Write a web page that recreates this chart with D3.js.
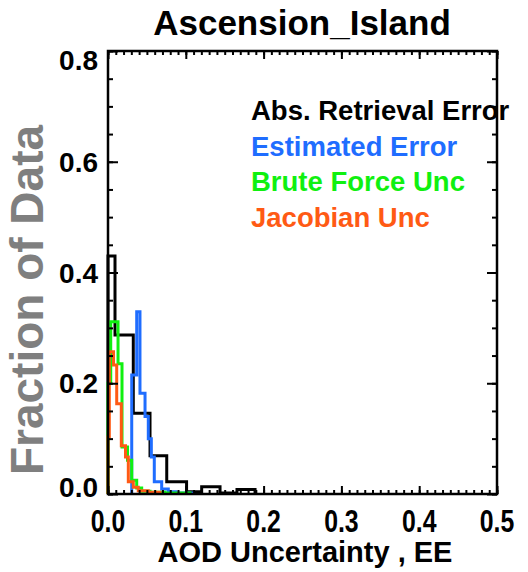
<!DOCTYPE html>
<html>
<head>
<meta charset="utf-8">
<script src="https://cdn.jsdelivr.net/npm/d3@7"></script>
<style>
  body { margin: 0; background: #fff; }
  text { font-family: "Liberation Sans", Arial, sans-serif; font-weight: bold; }
</style>
</head>
<body>
<script>
// histogram bin edges (AOD units) and fraction of data per bin
var absEdges  = [0, 0.009, 0.0325, 0.054, 0.0755, 0.101, 0.1204, 0.144, 0.1658, 0.189];
var absVals   = [0.43, 0.287, 0.146, 0.069, 0.022, 0.004, 0.013, 0.002, 0.008];

var estEdges  = [0.0305, 0.0369, 0.0411, 0.0476, 0.0518, 0.0557, 0.0595, 0.069, 0.0775, 0.0874, 0.109];
var estVals   = [0.215, 0.329, 0.182, 0.14, 0.10, 0.067, 0.022, 0.009, 0.004, 0.002];

var bruteEdges = [0, 0.0035, 0.0129, 0.018, 0.0251, 0.0305, 0.0369, 0.0433, 0.054, 0.0733, 0.1054];
var bruteVals  = [0.2, 0.311, 0.235, 0.085, 0.061, 0.025, 0.011, 0.005, 0.003, 0.002];

var jacEdges  = [0, 0.0017, 0.0071, 0.0112, 0.0171, 0.0225, 0.0261, 0.0325, 0.0389, 0.0518, 0.0668];
var jacVals   = [0.103, 0.257, 0.233, 0.163, 0.087, 0.067, 0.022, 0.012, 0.006, 0.003];

var xTicks = [0, 0.1, 0.2, 0.3, 0.4, 0.5];
var yTicks = [0, 0.2, 0.4, 0.6, 0.8];
var legendNames = ["Abs. Retrieval Error", "Estimated Error", "Brute Force Unc", "Jacobian Unc"];
var colors = ["#000000", "#1f6dff", "#10f010", "#ff5a14"];

var svg = d3.select("body").append("svg")
    .attr("width", 528)
    .attr("height", 572);

var pLeft = 108, pRight = 497, pTop = 51, pBottom = 494;
var x = d3.scaleLinear().domain([0, 0.5]).range([pLeft, pRight]);
var y = d3.scaleLinear().domain([0, 0.8]).range([pBottom, pTop]);

// histograms as step lines
function steps(edges, vals) {
    var pts = [[edges[0], 0]];
    vals.forEach(function (v, i) {
        pts.push([edges[i], v]);
        pts.push([edges[i + 1], v]);
    });
    pts.push([edges[edges.length - 1], 0]);
    return pts;
}
var line = d3.line().x(function (d) { return x(d[0]); }).y(function (d) { return y(d[1]); });

var series = [[absEdges, absVals], [estEdges, estVals], [bruteEdges, bruteVals], [jacEdges, jacVals]];
svg.selectAll("path.hist")
    .data(series)
    .enter().append("path")
    .attr("class", "hist")
    .attr("d", function (d) { return line(steps(d[0], d[1])); })
    .attr("fill", "none")
    .attr("stroke", function (d, i) { return colors[i]; })
    .attr("stroke-width", 3)
    .attr("stroke-linejoin", "miter");

// axes: ticks point inward on all four sides
function tickStyle(g) {
    g.select(".domain").remove();
    g.selectAll("line").attr("stroke", "#000").attr("stroke-width", 2);
    g.selectAll("text").remove();
}
var xMinor = d3.range(0, 0.5001, 0.01);
var yMinor = d3.range(0, 0.8001, 0.05);

svg.append("g").attr("transform", "translate(0," + pBottom + ")")
    .call(d3.axisBottom(x).tickValues(xMinor).tickSize(-4)).call(tickStyle);
svg.append("g").attr("transform", "translate(0," + pBottom + ")")
    .call(d3.axisBottom(x).tickValues(xTicks).tickSize(-8)).call(tickStyle);
svg.append("g").attr("transform", "translate(0," + pTop + ")")
    .call(d3.axisTop(x).tickValues(xMinor).tickSize(-4)).call(tickStyle);
svg.append("g").attr("transform", "translate(0," + pTop + ")")
    .call(d3.axisTop(x).tickValues(xTicks).tickSize(-8)).call(tickStyle);
svg.append("g").attr("transform", "translate(" + pLeft + ",0)")
    .call(d3.axisLeft(y).tickValues(yMinor).tickSize(-5)).call(tickStyle);
svg.append("g").attr("transform", "translate(" + pLeft + ",0)")
    .call(d3.axisLeft(y).tickValues(yTicks).tickSize(-10)).call(tickStyle);
svg.append("g").attr("transform", "translate(" + pRight + ",0)")
    .call(d3.axisRight(y).tickValues(yMinor).tickSize(-5)).call(tickStyle);
svg.append("g").attr("transform", "translate(" + pRight + ",0)")
    .call(d3.axisRight(y).tickValues(yTicks).tickSize(-10)).call(tickStyle);

svg.append("rect")
    .attr("x", pLeft).attr("y", pTop)
    .attr("width", pRight - pLeft).attr("height", pBottom - pTop)
    .attr("fill", "none").attr("stroke", "#000").attr("stroke-width", 2.5);

// tick labels
svg.selectAll("text.xl")
    .data(xTicks)
    .enter().append("text")
    .attr("class", "xl")
    .attr("transform", function (d) { return "translate(" + x(d) + ",532) scale(0.8,1)"; })
    .attr("text-anchor", "middle")
    .attr("font-size", 31)
    .text(d3.format(".1f"));

svg.selectAll("text.yl")
    .data(yTicks)
    .enter().append("text")
    .attr("class", "yl")
    .attr("x", 98)
    .attr("y", function (d) { return Math.min(Math.max(y(d), pTop + 9), pBottom - 7) + 10; })
    .attr("text-anchor", "end")
    .attr("font-size", 28)
    .text(d3.format(".1f"));

// titles
svg.append("text")
    .attr("x", 302).attr("y", 35)
    .attr("text-anchor", "middle")
    .attr("font-size", 35)
    .text("Ascension_Island");

svg.append("text")
    .attr("x", 305).attr("y", 562)
    .attr("text-anchor", "middle")
    .attr("font-size", 29)
    .text("AOD Uncertainty , EE");

svg.append("text")
    .attr("transform", "translate(43,300) rotate(-90)")
    .attr("text-anchor", "middle")
    .attr("font-size", 46)
    .attr("fill", "#7f7f7f")
    .text("Fraction of Data");

// legend
svg.selectAll("text.leg")
    .data(legendNames)
    .enter().append("text")
    .attr("class", "leg")
    .attr("x", 251)
    .attr("y", function (d, i) { return 120 + i * 35.5; })
    .attr("font-size", 27.5)
    .attr("fill", function (d, i) { return colors[i]; })
    .text(function (d) { return d; });
</script>
</body>
</html>
